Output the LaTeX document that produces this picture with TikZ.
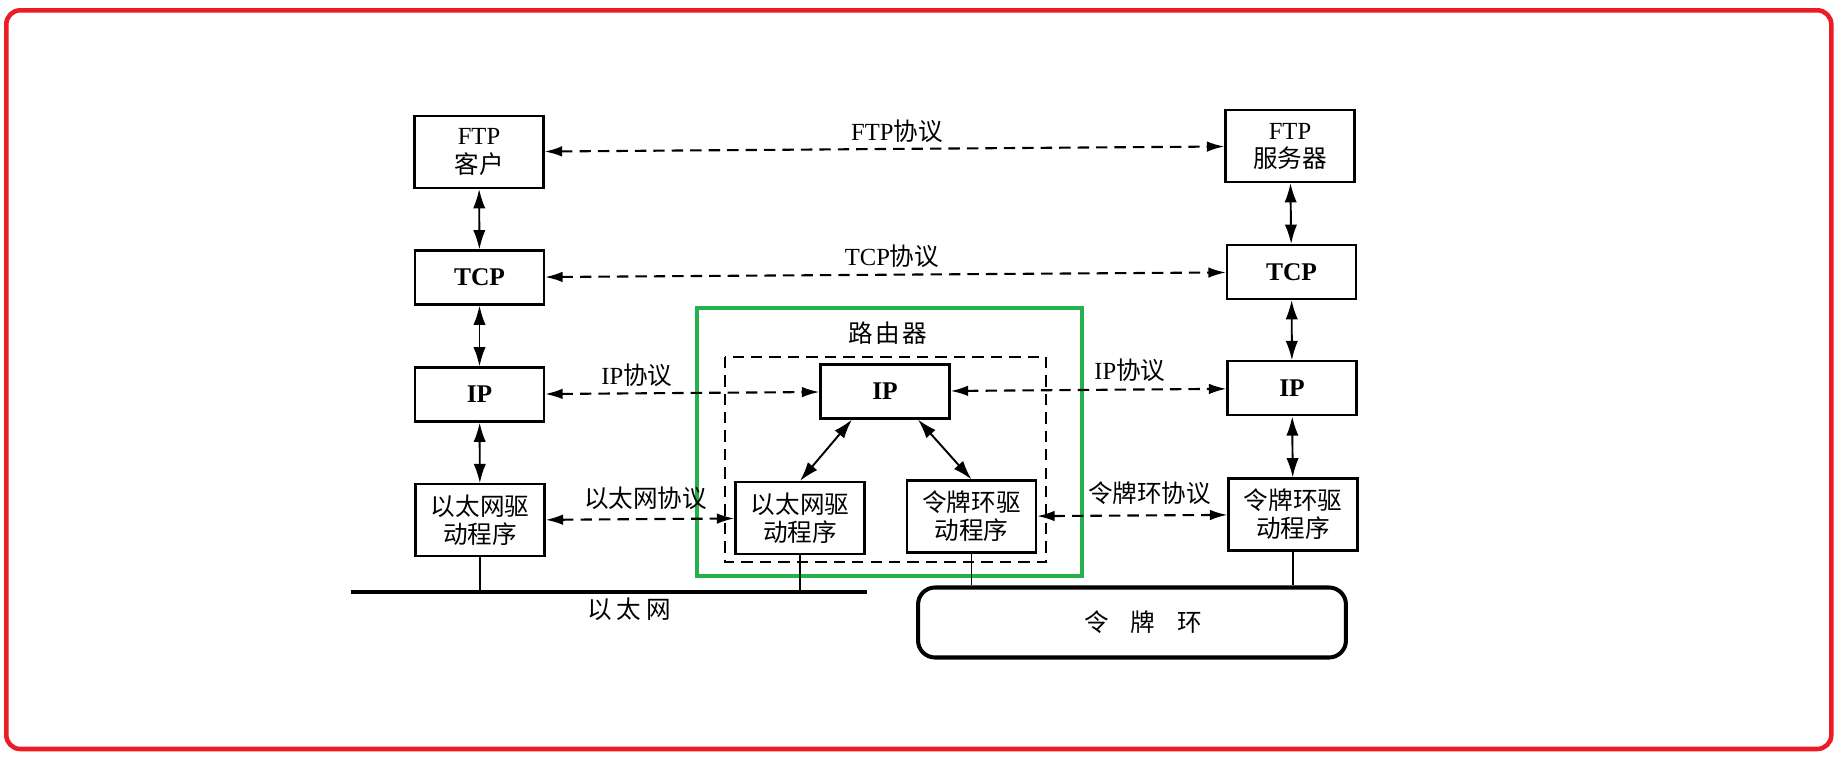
\documentclass[tikz,border=0pt]{standalone}
\usepackage{fontspec}
\setmainfont{Liberation Serif}
\newfontfamily\cjk{Noto Sans CJK SC}
\newcommand{\zh}[1]{{\cjk #1}}
\usepackage{tikz}
\usetikzlibrary{arrows.meta, positioning}
\usepackage{xcolor}
\definecolor{framered}{RGB}{237,28,36}
\definecolor{routergreen}{RGB}{34,177,76}
\tikzset{
  box/.style={rectangle, draw, line width=1.2pt,
    minimum width=2.58cm, minimum height=1.44cm,
    align=center, inner sep=0pt, font=\fontsize{14}{16}\selectfont},
  boxS/.style={box, minimum height=1.08cm,
    font=\fontsize{14.5}{16}\selectfont\bfseries},
  proto/.style={{Latex[length=10pt,width=6pt]}-{Latex[length=10pt,width=6pt]},
    dash pattern=on 6.5pt off 4pt, line width=1.2pt},
  link/.style={{Latex[length=11pt,width=7pt]}-{Latex[length=11pt,width=7pt]},
    line width=1.1pt},
  lbl/.style={font=\fontsize{14}{16}\selectfont, inner sep=0pt},
  wire/.style={line width=0.9pt},
}

\begin{document}
\begin{tikzpicture}[x=0.02cm, y=-0.02cm]
  \useasboundingbox (0,0) rectangle (1843,757);

  % -- outer frame --
  \draw[framered, line width=2.6pt, rounded corners=0.28cm]
       (6.3,10.3) rectangle (1831.3,749);

  % -- left host (FTP client) --
  \node[box]  (ftpc) at (479,152)     {FTP\\\zh{客户}};
  \node[boxS] (tcpl) at (479.5,277.5) {TCP};
  \node[boxS] (ipl)  at (479.5,394.5) {IP};
  \node[box]  (ethl) at (480,520.3)   {\zh{以太网驱}\\\zh{动程序}};

  % -- right host (FTP server) --
  \node[box]  (ftps) at (1290,146)    {FTP\\\zh{服务器}};
  \node[boxS] (tcpr) at (1291.5,272)  {TCP};
  \node[boxS] (ipr)  at (1292,388.3)  {IP};
  \node[box]  (trr)  at (1293,514.5)  {\zh{令牌环驱}\\\zh{动程序}};

  % -- router --
  \draw[routergreen, line width=2.3pt] (696.6,308) rectangle (1082,576);
  \draw[line width=1.2pt, dash pattern=on 6.5pt off 4pt]
       (725,356.7) rectangle (1046,561.7);
  \node[lbl] (rtname) at (888,333) {\zh{路\hspace{0.1em}由\hspace{0.1em}器}};
  \node[boxS] (ipm)  at (885,391.5)   {IP};
  \node[box]  (ethm) at (800,518)     {\zh{以太网驱}\\\zh{动程序}};
  \node[box]  (trm)  at (971.5,516.5) {\zh{令牌环驱}\\\zh{动程序}};

  % -- networks --
  \coordinate (busL) at (350.7,592);
  \coordinate (busR) at (866.5,592);
  \draw[line width=2.3pt] (busL) -- (busR);
  \node[lbl] (busname) at (629,609) {\zh{以\hspace{0.2em}太\hspace{0.2em}网}};
  \node[draw, line width=2.3pt, rounded corners=0.34cm,
        minimum width=8.56cm, minimum height=1.4cm,
        font=\fontsize{14}{16}\selectfont] (ring) at (1132,622.5)
       {\hspace{0.9em}\zh{令\hspace{0.9em}牌\hspace{0.9em}环}};

  \draw[wire] (ethl.south) -- (ethl.south |- busL);
  \draw[wire] (ethm.south) -- (ethm.south |- busL);
  \draw[wire] (trm.south)  -- (trm.south |- ring.north);
  \draw[wire] (trr.south)  -- (trr.south |- ring.north);

  % -- stacks --
  \draw[link] (ftpc) -- (tcpl);
  \draw[link] (tcpl) -- (ipl);
  \draw[link] (ipl)  -- (ethl);
  \draw[link] (ftps) -- (tcpr);
  \draw[link] (tcpr) -- (ipr);
  \draw[link] (ipr)  -- (trr);
  \draw[link] ([xshift=-0.66cm]ipm.south) -- (ethm.north);
  \draw[link] ([xshift=0.66cm]ipm.south)  -- (trm.north);

  % -- peer protocols --
  \draw[proto] (ftpc) -- (ftps);
  \node[lbl] (ftpp) at (897,131) {FTP\zh{协议}};
  \draw[proto] (tcpl) -- (tcpr);
  \node[lbl] (tcpp) at (892,256) {TCP\zh{协议}};
  \draw[proto] (ipl) -- (ipm);
  \node[lbl] (ipp1) at (637,375) {IP\zh{协议}};
  \draw[proto] (ipm) -- (ipr);
  \node[lbl] (ipp2) at (1130,370) {IP\zh{协议}};
  \draw[proto] (ethl) -- (ethm);
  \node[lbl] (ethp) at (645.5,498) {\zh{以太网协议}};
  \draw[proto] (trm) -- (trr);
  \node[lbl] (trp) at (1149.6,493) {\zh{令牌环协议}};
\end{tikzpicture}
\end{document}
